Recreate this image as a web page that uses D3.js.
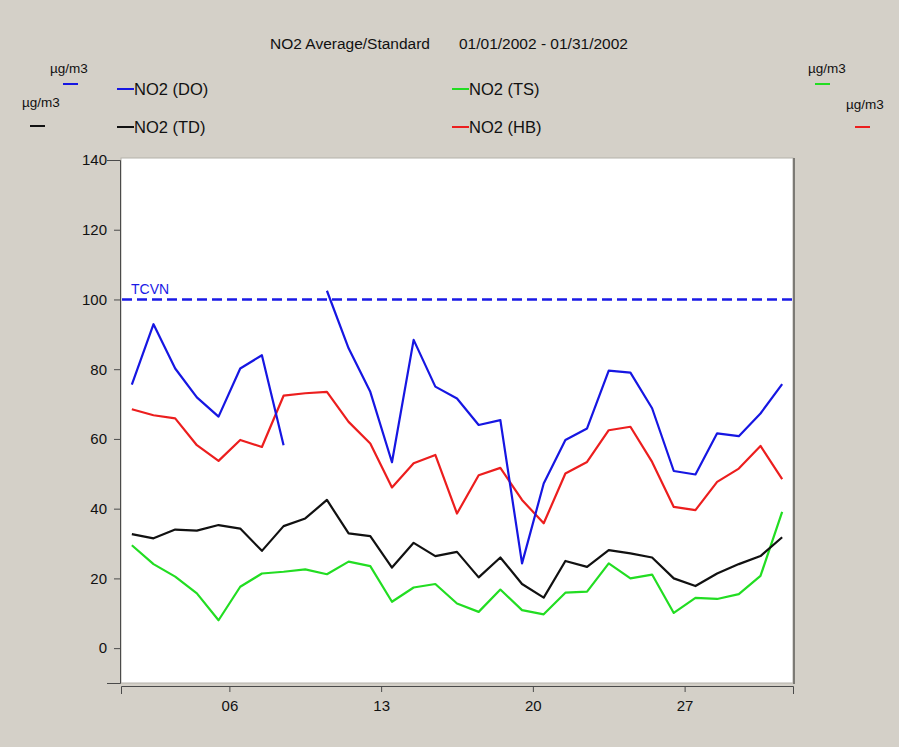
<!DOCTYPE html>
<html>
<head>
<meta charset="utf-8">
<script src="https://cdn.jsdelivr.net/npm/d3@7"></script>
<style>
  html, body { margin: 0; padding: 0; background: #d4d0c8; }
  svg { display: block; }
  text { font-family: "Liberation Sans", Arial, sans-serif; }
</style>
</head>
<body>
<svg id="chart" width="899" height="747"></svg>
<script>
// Daily NO2 averages for January 2002, µg/m3
const days = [1, 2, 3, 4, 5, 6, 7, 8, 9, 10, 11, 12, 13, 14, 15, 16,
              17, 18, 19, 20, 21, 22, 23, 24, 25, 26, 27, 28, 29, 30, 31];

const no2DO = [75.6, 92.9, 80.2, 71.9, 66.4, 80.2, 84.0, 58.2, null, 102.5, 86.0, 73.5, 53.3, 88.4, 75.0, 71.6,
               64.0, 65.4, 24.3, 47.2, 59.7, 63.0, 79.6, 79.0, 68.8, 50.8, 49.8, 61.6, 60.8, 67.3, 75.7];
const no2HB = [68.5, 66.8, 65.9, 58.2, 53.7, 59.7, 57.7, 72.4, 73.1, 73.5, 64.9, 58.7, 46.1, 53.0, 55.4, 38.6,
               49.6, 51.7, 42.5, 35.8, 50.1, 53.4, 62.5, 63.5, 53.4, 40.5, 39.6, 47.7, 51.5, 58.0, 48.5];
const no2TD = [32.7, 31.5, 34.0, 33.7, 35.3, 34.3, 27.9, 35.0, 37.2, 42.5, 32.9, 32.1, 23.1, 30.2, 26.4, 27.6,
               20.3, 26.0, 18.4, 14.5, 25.0, 23.3, 28.1, 27.2, 26.0, 20.0, 17.8, 21.4, 24.1, 26.4, 31.8];
const no2TS = [29.5, 24.1, 20.5, 15.7, 8.0, 17.6, 21.4, 21.9, 22.6, 21.2, 24.8, 23.5, 13.3, 17.4, 18.4, 12.8,
               10.4, 16.8, 10.9, 9.7, 15.9, 16.2, 24.3, 20.0, 21.1, 10.1, 14.4, 14.1, 15.5, 20.7, 39.1];

const standardValue = 100;        // TCVN limit
const standardLabel = "TCVN";
const yTicks = [0, 20, 40, 60, 80, 100, 120, 140];
const xTickDays = [6, 13, 20, 27];

const seriesNames = ["NO2 (DO)", "NO2 (TS)", "NO2 (TD)", "NO2 (HB)"];
const seriesColors = ["#1616e2", "#22dd22", "#111111", "#ec1e1e"];
const seriesValues = [no2DO, no2TS, no2TD, no2HB];

const titleLeft = "NO2 Average/Standard";
const titleRight = "01/01/2002 - 01/31/2002";
const unitLabel = "µg/m3";

const svg = d3.select("#chart");

const plot = { left: 121, right: 793, top: 158, bottom: 683 };

const x = d3.scaleTime()
  .domain([new Date(2002, 0, 1), new Date(2002, 1, 1)])
  .range([plot.left, plot.right]);
const y = d3.scaleLinear()
  .domain([-10, 140])
  .range([683, 160]);

const noon = d => new Date(2002, 0, d, 12);

// Plot area
svg.append("rect")
  .attr("x", plot.left).attr("y", plot.top)
  .attr("width", plot.right - plot.left).attr("height", plot.bottom - plot.top)
  .attr("fill", "#ffffff")
  .attr("stroke", "#b4b1aa").attr("stroke-width", 1);
svg.append("line")
  .attr("x1", plot.right + 1).attr("x2", plot.right + 1)
  .attr("y1", plot.top).attr("y2", plot.bottom + 1)
  .attr("stroke", "#7c7a75").attr("stroke-width", 2);

// Axes
const yAxis = d3.axisLeft(y).tickValues(yTicks).tickSizeInner(6).tickSizeOuter(13).tickPadding(7);
const gy = svg.append("g").attr("transform", "translate(120,0)").call(yAxis);

const xAxis = d3.axisBottom(x)
  .tickValues(xTickDays.map(d => new Date(2002, 0, d)))
  .tickFormat(d3.timeFormat("%d"))
  .tickSizeInner(6).tickSizeOuter(8).tickPadding(8);
const gx = svg.append("g").attr("transform", "translate(0,686)").call(xAxis);

[gy, gx].forEach(g => {
  g.select(".domain").attr("stroke", "#4a4a4a");
  g.selectAll(".tick line").attr("stroke", "#4a4a4a");
  g.selectAll(".tick text")
    .attr("fill", "#111")
    .style("font-family", "'Liberation Sans', Arial, sans-serif")
    .style("font-size", "15px");
});

// Standard line
svg.append("line")
  .attr("x1", plot.left + 1).attr("x2", plot.right)
  .attr("y1", y(standardValue)).attr("y2", y(standardValue))
  .attr("stroke", "#1a1ae6").attr("stroke-width", 2.6)
  .attr("stroke-dasharray", "10,5");
svg.append("text")
  .attr("x", 131).attr("y", y(standardValue) - 5)
  .attr("fill", "#1a1ae6").style("font-size", "14px")
  .text(standardLabel);

// Series lines
const line = d3.line()
  .defined(d => d.v != null)
  .x(d => x(noon(d.day)))
  .y(d => y(d.v));

const drawOrder = [1, 2, 3, 0];
drawOrder.forEach(i => {
  const pts = days.map((day, k) => ({ day, v: seriesValues[i][k] }));
  svg.append("path")
    .datum(pts)
    .attr("fill", "none")
    .attr("stroke", seriesColors[i])
    .attr("stroke-width", 2.2)
    .attr("stroke-linejoin", "round")
    .attr("d", line);
});

// Title
svg.append("text").attr("x", 270).attr("y", 49).style("font-size", "15.5px").attr("fill", "#111").text(titleLeft);
svg.append("text").attr("x", 459).attr("y", 49).style("font-size", "15.5px").attr("fill", "#111").text(titleRight);

// Legend
const legend = [
  { i: 0, lx: 117, ly: 89, ux: 50, uy: 73, dx: 63, dy: 84 },
  { i: 2, lx: 117, ly: 127, ux: 22, uy: 107, dx: 30, dy: 126 },
  { i: 1, lx: 452, ly: 89, ux: 808, uy: 73, dx: 815, dy: 84 },
  { i: 3, lx: 452, ly: 127, ux: 846, uy: 109, dx: 855, dy: 127 }
];
legend.forEach(l => {
  const c = seriesColors[l.i];
  svg.append("line").attr("x1", l.lx).attr("x2", l.lx + 17).attr("y1", l.ly).attr("y2", l.ly)
    .attr("stroke", c).attr("stroke-width", 2);
  svg.append("text").attr("x", l.lx + 17).attr("y", l.ly + 6).style("font-size", "16.5px").attr("fill", "#111")
    .text(seriesNames[l.i]);
  svg.append("text").attr("x", l.ux).attr("y", l.uy).style("font-size", "13.5px").attr("fill", "#111")
    .text(unitLabel);
  svg.append("line").attr("x1", l.dx).attr("x2", l.dx + 15).attr("y1", l.dy).attr("y2", l.dy)
    .attr("stroke", c).attr("stroke-width", 2);
});
</script>
</body>
</html>
